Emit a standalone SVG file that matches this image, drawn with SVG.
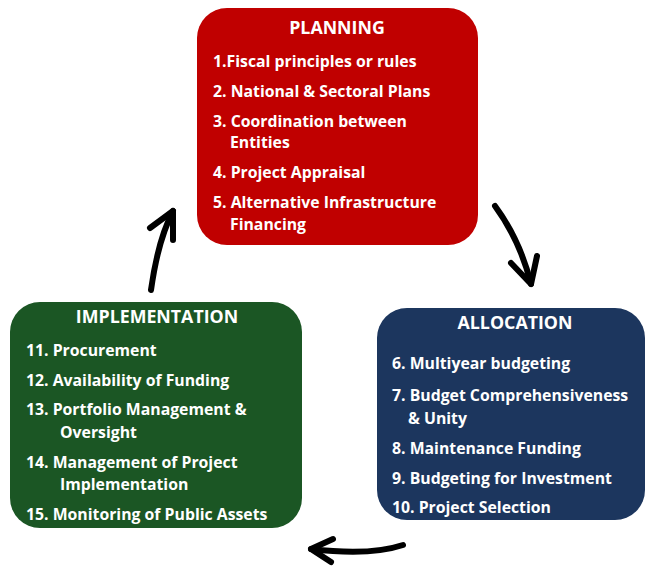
<svg xmlns="http://www.w3.org/2000/svg" width="647" height="568" viewBox="0 0 647 568">
<style>
.t{font-family:"Open Sans",Lato,"Liberation Sans",sans-serif;font-weight:bold;fill:#fff;font-size:15.8px}
.h{font-family:"Open Sans",Lato,"Liberation Sans",sans-serif;font-weight:bold;fill:#fff;font-size:17.8px;text-anchor:middle}
.a{fill:none;stroke:#000;stroke-width:6;stroke-linecap:round;stroke-linejoin:round}
</style>
<rect width="647" height="568" fill="#fff"/>
<g id="planning">
<rect x="197" y="8" width="281" height="237" rx="30" fill="#C00000"/>
<text class="h" x="337" y="34">PLANNING</text>
<text class="t" x="213" y="67">1.Fiscal principles or rules</text>
<text class="t" x="213" y="97">2. National &amp; Sectoral Plans</text>
<text class="t" x="213" y="127">3. Coordination between</text>
<text class="t" x="230" y="148">Entities</text>
<text class="t" x="213" y="178">4. Project Appraisal</text>
<text class="t" x="213" y="208">5. Alternative Infrastructure</text>
<text class="t" x="230" y="230">Financing</text>
</g>
<g id="allocation">
<rect x="377" y="308" width="268" height="212" rx="30" fill="#1C365E"/>
<text class="h" x="515" y="329">ALLOCATION</text>
<text class="t" x="392" y="369">6. Multiyear budgeting</text>
<text class="t" x="392" y="401">7. Budget Comprehensiveness</text>
<text class="t" x="408" y="424">&amp; Unity</text>
<text class="t" x="392" y="454">8. Maintenance Funding</text>
<text class="t" x="392" y="484">9. Budgeting for Investment</text>
<text class="t" x="392" y="513">10. Project Selection</text>
</g>
<g id="implementation">
<rect x="10" y="302" width="292" height="226" rx="30" fill="#1B5624"/>
<text class="h" x="157" y="323">IMPLEMENTATION</text>
<text class="t" x="26" y="356">11. Procurement</text>
<text class="t" x="26" y="386">12. Availability of Funding</text>
<text class="t" x="26" y="415">13. Portfolio Management &amp;</text>
<text class="t" x="60" y="438">Oversight</text>
<text class="t" x="26" y="468">14. Management of Project</text>
<text class="t" x="60" y="490">Implementation</text>
<text class="t" x="26" y="520">15. Monitoring of Public Assets</text>
</g>
<g id="connectors">
<path class="a" d="M151,290 Q158,240 173,211"/>
<path class="a" d="M150,228 L173,211 L173,240"/>
<path class="a" d="M495,206 Q520,240 531,284"/>
<path class="a" d="M511,263 L531,284 L537,256"/>
<path class="a" d="M403,545 Q370,556 311,549"/>
<path class="a" d="M333,539 L311,549 L331,562"/>
</g>
</svg>
